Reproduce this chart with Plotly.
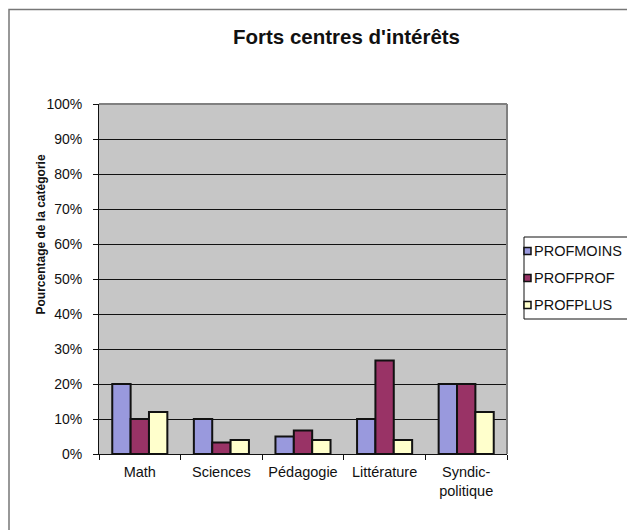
import plotly.graph_objects as go

categories = ["Math", "Sciences", "Pédagogie", "Littérature", "Syndic-<br>politique"]
series_names = ["PROFMOINS", "PROFPROF", "PROFPLUS"]
profmoins = [20, 10, 5, 10, 20]
profprof = [10, 3.3, 6.7, 26.7, 20]
profplus = [12, 4, 4, 4, 12]
y_ticks = [0, 10, 20, 30, 40, 50, 60, 70, 80, 90, 100]
y_tick_labels = [f"{v}%" for v in y_ticks]

colors = ["#9999DD", "#993366", "#FFFFCC"]
FONT = "Liberation Sans, Arial, sans-serif"

# page has an 8px body margin: work in page pixels, convert to figure pixels
OFF = 8
W, H = 635 - OFF, 530 - OFF
L, R, T, B = 99 - OFF, 507 - OFF, 104 - OFF, 454 - OFF
pw, ph = R - L, B - T

def px_x(x):
    return (x - OFF - L) / pw

def px_y(y):
    return (B - (y - OFF)) / ph

fig = go.Figure()
for name, vals, color in zip(series_names, [profmoins, profprof, profplus], colors):
    fig.add_trace(go.Bar(x=categories, y=vals, name=name, showlegend=False,
                         marker=dict(color=color, line=dict(color="#111111", width=2))))

fig.update_layout(
    width=W, height=H,
    margin=dict(l=L, r=W - R, t=T, b=H - B, autoexpand=False),
    paper_bgcolor="white",
    plot_bgcolor="#C6C6C6",
    barmode="group",
    bargap=0.325,
    bargroupgap=0,
    font=dict(family=FONT, size=14, color="#111111"),
    showlegend=False,
    xaxis=dict(showline=True, linecolor="#111111", linewidth=1, automargin=False,
               ticks="outside", tickson="boundaries", ticklen=5, tickcolor="#111111",
               ticklabelstandoff=5,
               tickfont=dict(size=14.5, family=FONT)),
    yaxis=dict(range=[0, 100], tickvals=y_ticks, ticktext=y_tick_labels, automargin=False,
               showgrid=True, gridcolor="#111111", gridwidth=1,
               showline=True, linecolor="#111111", linewidth=1,
               ticks="outside", ticklen=5, tickcolor="#111111",
               ticklabelstandoff=8,
               tickfont=dict(size=14, family=FONT), zeroline=False),
)

# plot area border (top & right gray)
fig.add_shape(type="line", xref="paper", yref="paper", x0=0, x1=1, y0=1, y1=1,
              line=dict(color="#808080", width=2))
fig.add_shape(type="line", xref="paper", yref="paper", x0=1, x1=1, y0=0, y1=1,
              line=dict(color="#808080", width=2))
# outer chart border
fig.add_shape(type="rect", xref="paper", yref="paper",
              x0=px_x(9), x1=px_x(634), y0=px_y(9.5), y1=px_y(545),
              line=dict(color="#777777", width=1.5), fillcolor="rgba(0,0,0,0)")

# legend (drawn manually to match the compact Excel legend)
fig.add_shape(type="rect", xref="paper", yref="paper",
              x0=px_x(524), x1=px_x(631), y0=px_y(237), y1=px_y(319),
              line=dict(color="#111111", width=1), fillcolor="white")
legend_rows = [251, 278, 305]
for name, color, yc in zip(series_names, colors, legend_rows):
    fig.add_shape(type="rect", xref="paper", yref="paper",
                  x0=px_x(524), x1=px_x(531), y0=px_y(yc - 3.5), y1=px_y(yc + 3.5),
                  line=dict(color="#111111", width=1.5), fillcolor=color)
    fig.add_annotation(text=name, xref="paper", yref="paper",
                       x=px_x(532), y=px_y(yc), xanchor="left", yanchor="middle",
                       showarrow=False, font=dict(size=14.5, family=FONT, color="#111111"))

fig.add_annotation(text="<b>Forts centres d'intérêts</b>", xref="paper", yref="paper",
                   x=px_x(346), y=px_y(37), xanchor="center", yanchor="middle",
                   showarrow=False,
                   font=dict(size=20.5, family=FONT, color="#111111"))
fig.add_annotation(text="<b>Pourcentage de la catégorie</b>", xref="paper", yref="paper",
                   x=px_x(40.5), y=px_y(235), xanchor="center", yanchor="middle",
                   showarrow=False, textangle=-90,
                   font=dict(size=12, family=FONT, color="#111111"))

fig.write_html("out.html")
